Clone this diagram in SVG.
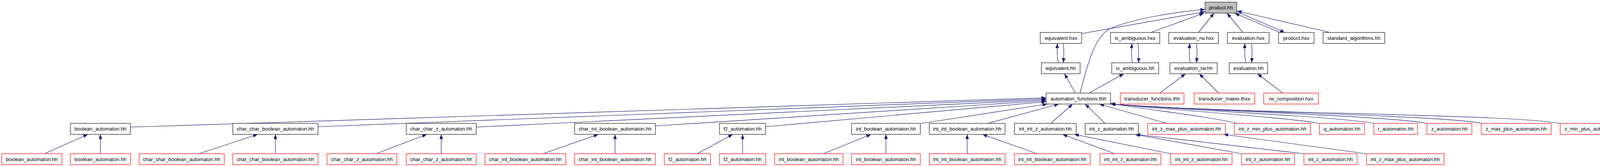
<svg xmlns="http://www.w3.org/2000/svg" width="4173" height="427" viewBox="0 0 4173 427">
<style>
.nd rect{fill:#ffffff;stroke:#404040;stroke-width:1.5}
.nd.red rect{stroke:#ff2020;stroke-width:1.4}
.nd.cur rect{fill:#bfbfbf}
.nd text{font-family:"Liberation Sans",Arial,sans-serif;font-size:13px;fill:#000;text-anchor:middle}
.ed path{fill:none;stroke:#191970;stroke-width:1.2;marker-end:url(#ah)}
</style>
<defs>
<marker id="ah" markerWidth="12" markerHeight="9" refX="12" refY="4.5" orient="auto" markerUnits="userSpaceOnUse"><path d="M0,0 L12,4.5 L0,9 z" fill="#191970"/></marker>
</defs>
<rect width="4173" height="427" fill="#ffffff"/>
<g id="edges" class="ed">
<path d="M2765,238 C2780,180 2800,95 2840,74 C2900,48 3000,32 3085,24"/>
<path d="M2769,86 L3085,30"/>
<path d="M2946,83 L3082,33.5"/>
<path d="M3068,83 L3108,33.5"/>
<path d="M3182,83 L3141,33.5"/>
<path d="M3277,83 L3161,34"/>
<path d="M3167,30 L3289,83"/>
<path d="M3405,83 L3167,28"/>
<path d="M2709,160.5 C2706,145 2706,128 2707,111"/>
<path d="M2722,111 C2724,126 2724,142 2722,160.5"/>
<path d="M2899,160.5 C2896,145 2896,128 2898,111"/>
<path d="M2913,111 C2915,126 2915,142 2915,160.5"/>
<path d="M3047,160.5 C3044,145 3044,128 3046,111"/>
<path d="M3063,111 C3065,126 3065,142 3063,160.5"/>
<path d="M3189,160.5 C3186,145 3186,128 3187,111"/>
<path d="M3204,111 C3206,126 3206,142 3204,160.5"/>
<path d="M2753,238 L2725,188.5"/>
<path d="M2788,238 L2877,188.5"/>
<path d="M2969,238 L3035,188.5"/>
<path d="M3120,238 L3070,188.5"/>
<path d="M3284,238 L3219,188.5"/>
<path d="M334,325 L2678,250"/>
<path d="M814,324 L2678,252.5"/>
<path d="M1219,325 L2678,255"/>
<path d="M1678,322 L2678,257.5"/>
<path d="M1960,324 L2678,260"/>
<path d="M2356,316 L2681,266"/>
<path d="M2528,315.5 L2711,266"/>
<path d="M2690,315.5 L2746,266"/>
<path d="M2829,315.5 L2778,266"/>
<path d="M2987,315.5 L2814,266"/>
<path d="M3166,315.5 C3100,298 2900,276 2843,264"/>
<path d="M3377,315.5 C3300,300 2950,278 2843,265"/>
<path d="M3517,315.5 C3430,298 3000,280 2843,265.5"/>
<path d="M3653,315.5 C3560,296 3050,282 2843,266"/>
<path d="M3792,315.5 C3700,295 3100,285 2843,266"/>
<path d="M3994,315.5 C3850,290 3100,290 2843,266"/>
<path d="M114,393 L225,343.5"/>
<path d="M257,393 L257,343.5"/>
<path d="M509,393 L660,343.5"/>
<path d="M705,393 L705,343.5"/>
<path d="M963,393 L1093,343.5"/>
<path d="M1129.5,393 L1129.5,343.5"/>
<path d="M1390,393 L1532,343.5"/>
<path d="M1574.5,393 L1574.5,343.5"/>
<path d="M1785,393 L1876,343.5"/>
<path d="M1901,393 L1901,343.5"/>
<path d="M2108,393 L2230,343.5"/>
<path d="M2268,393 L2268,343.5"/>
<path d="M2476,393 L2476,343.5"/>
<path d="M2655,393 L2515,343.5"/>
<path d="M2854,393 L2720,343.5"/>
<path d="M2997,393 L2750,343.5"/>
<path d="M3178,393 L2905,343.5"/>
<path d="M3338,393 L2907,343.5"/>
<path d="M3498,393 L3132,343.5"/>
</g>
<g id="n_product_hh" class="nd cur"><rect x="3085" y="5.5" width="81" height="28"/><text x="3125.5" y="24.1">product.hh</text></g>
<g id="n_equivalent_hxx" class="nd"><rect x="2663" y="83" width="106" height="28"/><text x="2716" y="101.6">equivalent.hxx</text></g>
<g id="n_is_ambiguous_hxx" class="nd"><rect x="2843" y="83" width="126" height="28"/><text x="2906" y="101.6">is_ambiguous.hxx</text></g>
<g id="n_evaluation_rw_hxx" class="nd"><rect x="2992" y="83" width="127" height="28"/><text x="3055.5" y="101.6">evaluation_rw.hxx</text></g>
<g id="n_evaluation_hxx" class="nd"><rect x="3142" y="83" width="107" height="28"/><text x="3195.5" y="101.6">evaluation.hxx</text></g>
<g id="n_product_hxx" class="nd"><rect x="3273" y="83" width="91" height="28"/><text x="3318.5" y="101.6">product.hxx</text></g>
<g id="n_standard_algorithms_hh" class="nd"><rect x="3387" y="83" width="158" height="28"/><text x="3466" y="101.6">standard_algorithms.hh</text></g>
<g id="n_equivalent_hh" class="nd"><rect x="2666" y="160.5" width="99" height="28"/><text x="2715.5" y="179.1">equivalent.hh</text></g>
<g id="n_is_ambiguous_hh" class="nd"><rect x="2846" y="160.5" width="120" height="28"/><text x="2906" y="179.1">is_ambiguous.hh</text></g>
<g id="n_evaluation_rw_hh" class="nd"><rect x="2995" y="160.5" width="121" height="28"/><text x="3055.5" y="179.1">evaluation_rw.hh</text></g>
<g id="n_evaluation_hh" class="nd"><rect x="3147" y="160.5" width="98" height="28"/><text x="3196" y="179.1">evaluation.hh</text></g>
<g id="n_automaton_functions_thh" class="nd"><rect x="2678" y="238" width="165" height="28"/><text x="2760.5" y="256.6">automaton_functions.thh</text></g>
<g id="n_transducer_functions_thh" class="nd red"><rect x="2868" y="238" width="163" height="28"/><text x="2949.5" y="256.6">transducer_functions.thh</text></g>
<g id="n_transducer_maker_thxx" class="nd red"><rect x="3057" y="238" width="155" height="28"/><text x="3134.5" y="256.6">transducer_maker.thxx</text></g>
<g id="n_rw_composition_hxx" class="nd red"><rect x="3235" y="238" width="140" height="28"/><text x="3305" y="256.6">rw_composition.hxx</text></g>
<g id="n_boolean_automaton_hh" class="nd"><rect x="180" y="315.5" width="154" height="28"/><text x="257" y="334.1">boolean_automaton.hh</text></g>
<g id="n_char_char_boolean_automaton_hh" class="nd"><rect x="596" y="315.5" width="218" height="28"/><text x="705" y="334.1">char_char_boolean_automaton.hh</text></g>
<g id="n_char_char_z_automaton_hh" class="nd"><rect x="1040" y="315.5" width="179" height="28"/><text x="1129.5" y="334.1">char_char_z_automaton.hh</text></g>
<g id="n_char_int_boolean_automaton_hh" class="nd"><rect x="1471" y="315.5" width="207" height="28"/><text x="1574.5" y="334.1">char_int_boolean_automaton.hh</text></g>
<g id="n_f2_automaton_hh" class="nd"><rect x="1842" y="315.5" width="118" height="28"/><text x="1901" y="334.1">f2_automaton.hh</text></g>
<g id="n_int_boolean_automaton_hh" class="nd"><rect x="2180" y="315.5" width="176" height="28"/><text x="2268" y="334.1">int_boolean_automaton.hh</text></g>
<g id="n_int_int_boolean_automaton_hh" class="nd"><rect x="2379" y="315.5" width="194" height="28"/><text x="2476" y="334.1">int_int_boolean_automaton.hh</text></g>
<g id="n_int_int_z_automaton_hh" class="nd"><rect x="2597" y="315.5" width="158" height="28"/><text x="2676" y="334.1">int_int_z_automaton.hh</text></g>
<g id="n_int_z_automaton_hh" class="nd"><rect x="2778" y="315.5" width="136" height="28"/><text x="2846" y="334.1">int_z_automaton.hh</text></g>
<g id="n_int_z_max_plus_automaton_hh" class="nd red"><rect x="2938" y="315.5" width="199" height="28"/><text x="3037.5" y="334.1">int_z_max_plus_automaton.hh</text></g>
<g id="n_int_z_min_plus_automaton_hh" class="nd red"><rect x="3160" y="315.5" width="195" height="28"/><text x="3257.5" y="334.1">int_z_min_plus_automaton.hh</text></g>
<g id="n_q_automaton_hh" class="nd red"><rect x="3378" y="315.5" width="115" height="28"/><text x="3435.5" y="334.1">q_automaton.hh</text></g>
<g id="n_r_automaton_hh" class="nd red"><rect x="3517" y="315.5" width="112" height="28"/><text x="3573" y="334.1">r_automaton.hh</text></g>
<g id="n_z_automaton_hh" class="nd red"><rect x="3653" y="315.5" width="115" height="28"/><text x="3710.5" y="334.1">z_automaton.hh</text></g>
<g id="n_z_max_plus_automaton_hh" class="nd red"><rect x="3792" y="315.5" width="179" height="28"/><text x="3881.5" y="334.1">z_max_plus_automaton.hh</text></g>
<g id="n_z_min_plus_automaton_hh" class="nd red"><rect x="3994" y="315.5" width="175" height="28"/><text x="4081.5" y="334.1">z_min_plus_automaton.hh</text></g>
<g id="n_r6_1" class="nd red"><rect x="4.5" y="393" width="154" height="28"/><text x="81.5" y="411.6">boolean_automaton.hh</text></g>
<g id="n_r6_2" class="nd red"><rect x="180" y="393" width="154" height="28"/><text x="257" y="411.6">boolean_automaton.hh</text></g>
<g id="n_r6_3" class="nd red"><rect x="356" y="393" width="218" height="28"/><text x="465" y="411.6">char_char_boolean_automaton.hh</text></g>
<g id="n_r6_4" class="nd red"><rect x="596" y="393" width="218" height="28"/><text x="705" y="411.6">char_char_boolean_automaton.hh</text></g>
<g id="n_r6_5" class="nd red"><rect x="837" y="393" width="179" height="28"/><text x="926.5" y="411.6">char_char_z_automaton.hh</text></g>
<g id="n_r6_6" class="nd red"><rect x="1040" y="393" width="179" height="28"/><text x="1129.5" y="411.6">char_char_z_automaton.hh</text></g>
<g id="n_r6_7" class="nd red"><rect x="1241.5" y="393" width="207" height="28"/><text x="1345" y="411.6">char_int_boolean_automaton.hh</text></g>
<g id="n_r6_8" class="nd red"><rect x="1471" y="393" width="207" height="28"/><text x="1574.5" y="411.6">char_int_boolean_automaton.hh</text></g>
<g id="n_r6_9" class="nd red"><rect x="1700.5" y="393" width="118.5" height="28"/><text x="1759.75" y="411.6">f2_automaton.hh</text></g>
<g id="n_r6_10" class="nd red"><rect x="1842" y="393" width="118" height="28"/><text x="1901" y="411.6">f2_automaton.hh</text></g>
<g id="n_r6_11" class="nd red"><rect x="1983" y="393" width="175" height="28"/><text x="2070.5" y="411.6">int_boolean_automaton.hh</text></g>
<g id="n_r6_12" class="nd red"><rect x="2180" y="393" width="176" height="28"/><text x="2268" y="411.6">int_boolean_automaton.hh</text></g>
<g id="n_r6_13" class="nd red"><rect x="2379" y="393" width="194" height="28"/><text x="2476" y="411.6">int_int_boolean_automaton.hh</text></g>
<g id="n_r6_14" class="nd red"><rect x="2597" y="393" width="194" height="28"/><text x="2694" y="411.6">int_int_boolean_automaton.hh</text></g>
<g id="n_r6_15" class="nd red"><rect x="2816" y="393" width="156" height="28"/><text x="2894" y="411.6">int_int_z_automaton.hh</text></g>
<g id="n_r6_16" class="nd red"><rect x="2997" y="393" width="157" height="28"/><text x="3075.5" y="411.6">int_int_z_automaton.hh</text></g>
<g id="n_r6_17" class="nd red"><rect x="3178" y="393" width="136" height="28"/><text x="3246" y="411.6">int_z_automaton.hh</text></g>
<g id="n_r6_18" class="nd red"><rect x="3338" y="393" width="136" height="28"/><text x="3406" y="411.6">int_z_automaton.hh</text></g>
<g id="n_r6_19" class="nd red"><rect x="3498" y="393" width="199" height="28"/><text x="3597.5" y="411.6">int_z_max_plus_automaton.hh</text></g>
</svg>
